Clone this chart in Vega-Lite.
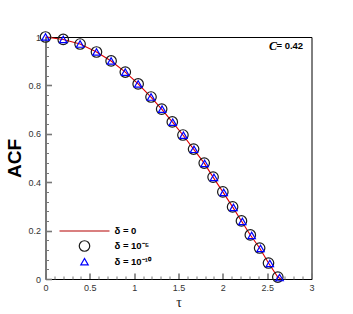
{
  "$schema": "https://vega.github.io/schema/vega-lite/v6.json",
  "width": 266,
  "height": 242,
  "autosize": {"type": "none"},
  "padding": {"left": 45.5, "top": 37, "right": 41.5, "bottom": 35},
  "background": "white",
  "config": {"view": {"stroke": "black", "strokeWidth": 1}, "font": "Liberation Sans"},
  "data": {
    "values": [
      {"series": "δ = 0", "tau": 0, "acf": 1.0},
      {"series": "δ = 0", "tau": 0.2, "acf": 0.99},
      {"series": "δ = 0", "tau": 0.39, "acf": 0.971},
      {"series": "δ = 0", "tau": 0.575, "acf": 0.938},
      {"series": "δ = 0", "tau": 0.74, "acf": 0.901},
      {"series": "δ = 0", "tau": 0.9, "acf": 0.855},
      {"series": "δ = 0", "tau": 1.045, "acf": 0.806},
      {"series": "δ = 0", "tau": 1.19, "acf": 0.752},
      {"series": "δ = 0", "tau": 1.31, "acf": 0.702},
      {"series": "δ = 0", "tau": 1.43, "acf": 0.649},
      {"series": "δ = 0", "tau": 1.55, "acf": 0.595},
      {"series": "δ = 0", "tau": 1.67, "acf": 0.537},
      {"series": "δ = 0", "tau": 1.79, "acf": 0.479},
      {"series": "δ = 0", "tau": 1.89, "acf": 0.421},
      {"series": "δ = 0", "tau": 2.0, "acf": 0.36},
      {"series": "δ = 0", "tau": 2.11, "acf": 0.298},
      {"series": "δ = 0", "tau": 2.21, "acf": 0.24},
      {"series": "δ = 0", "tau": 2.31, "acf": 0.182},
      {"series": "δ = 0", "tau": 2.415, "acf": 0.128},
      {"series": "δ = 0", "tau": 2.515, "acf": 0.066},
      {"series": "δ = 0", "tau": 2.62, "acf": 0.008},
      {"series": "δ = 0", "tau": 2.655, "acf": 0.0},
      {"series": "δ = 10⁻⁵", "tau": 0, "acf": 1.0},
      {"series": "δ = 10⁻⁵", "tau": 0.2, "acf": 0.99},
      {"series": "δ = 10⁻⁵", "tau": 0.39, "acf": 0.971},
      {"series": "δ = 10⁻⁵", "tau": 0.575, "acf": 0.938},
      {"series": "δ = 10⁻⁵", "tau": 0.74, "acf": 0.901},
      {"series": "δ = 10⁻⁵", "tau": 0.9, "acf": 0.855},
      {"series": "δ = 10⁻⁵", "tau": 1.045, "acf": 0.806},
      {"series": "δ = 10⁻⁵", "tau": 1.19, "acf": 0.752},
      {"series": "δ = 10⁻⁵", "tau": 1.31, "acf": 0.702},
      {"series": "δ = 10⁻⁵", "tau": 1.43, "acf": 0.649},
      {"series": "δ = 10⁻⁵", "tau": 1.55, "acf": 0.595},
      {"series": "δ = 10⁻⁵", "tau": 1.67, "acf": 0.537},
      {"series": "δ = 10⁻⁵", "tau": 1.79, "acf": 0.479},
      {"series": "δ = 10⁻⁵", "tau": 1.89, "acf": 0.421},
      {"series": "δ = 10⁻⁵", "tau": 2.0, "acf": 0.36},
      {"series": "δ = 10⁻⁵", "tau": 2.11, "acf": 0.298},
      {"series": "δ = 10⁻⁵", "tau": 2.21, "acf": 0.24},
      {"series": "δ = 10⁻⁵", "tau": 2.31, "acf": 0.182},
      {"series": "δ = 10⁻⁵", "tau": 2.415, "acf": 0.128},
      {"series": "δ = 10⁻⁵", "tau": 2.515, "acf": 0.066},
      {"series": "δ = 10⁻⁵", "tau": 2.62, "acf": 0.008},
      {"series": "δ = 10⁻¹⁰", "tau": 0, "acf": 1.0},
      {"series": "δ = 10⁻¹⁰", "tau": 0.2, "acf": 0.99},
      {"series": "δ = 10⁻¹⁰", "tau": 0.39, "acf": 0.971},
      {"series": "δ = 10⁻¹⁰", "tau": 0.575, "acf": 0.938},
      {"series": "δ = 10⁻¹⁰", "tau": 0.74, "acf": 0.901},
      {"series": "δ = 10⁻¹⁰", "tau": 0.9, "acf": 0.855},
      {"series": "δ = 10⁻¹⁰", "tau": 1.045, "acf": 0.806},
      {"series": "δ = 10⁻¹⁰", "tau": 1.19, "acf": 0.752},
      {"series": "δ = 10⁻¹⁰", "tau": 1.315, "acf": 0.702},
      {"series": "δ = 10⁻¹⁰", "tau": 1.435, "acf": 0.648},
      {"series": "δ = 10⁻¹⁰", "tau": 1.555, "acf": 0.594},
      {"series": "δ = 10⁻¹⁰", "tau": 1.675, "acf": 0.536},
      {"series": "δ = 10⁻¹⁰", "tau": 1.795, "acf": 0.478},
      {"series": "δ = 10⁻¹⁰", "tau": 1.9, "acf": 0.42},
      {"series": "δ = 10⁻¹⁰", "tau": 2.01, "acf": 0.358},
      {"series": "δ = 10⁻¹⁰", "tau": 2.12, "acf": 0.296},
      {"series": "δ = 10⁻¹⁰", "tau": 2.22, "acf": 0.238},
      {"series": "δ = 10⁻¹⁰", "tau": 2.325, "acf": 0.18},
      {"series": "δ = 10⁻¹⁰", "tau": 2.425, "acf": 0.126},
      {"series": "δ = 10⁻¹⁰", "tau": 2.53, "acf": 0.064},
      {"series": "δ = 10⁻¹⁰", "tau": 2.64, "acf": 0.006}
    ]
  },
  "layer": [
    {
      "transform": [{"filter": "datum.series === 'δ = 0'"}],
      "mark": {"type": "line", "color": "#e00000", "strokeWidth": 1.1},
      "encoding": {
        "x": {
          "field": "tau", "type": "quantitative",
          "scale": {"domain": [0, 3], "nice": false, "zero": false},
          "axis": {
            "orient": "bottom", "values": [0, 0.5, 1, 1.5, 2, 2.5, 3],
            "labelExpr": "'' + datum.value", "grid": false,
            "domainColor": "#000000", "domainWidth": 1,
            "tickSize": -6, "tickColor": "#777777", "tickWidth": 1.6,
            "labelPadding": 10, "labelFont": "Liberation Sans", "labelFontSize": 9, "labelColor": "#333333",
            "labelFlush": false,
            "title": "τ", "titleFont": "Liberation Serif", "titleFontSize": 14, "titleFontWeight": "normal",
            "titleColor": "#222222", "titlePadding": 3
          }
        },
        "y": {
          "field": "acf", "type": "quantitative",
          "scale": {"domain": [0, 1], "nice": false, "zero": false},
          "axis": {
            "orient": "left", "values": [0, 0.2, 0.4, 0.6, 0.8, 1],
            "labelExpr": "'' + datum.value", "grid": false,
            "domainColor": "#777777", "domainWidth": 1.6,
            "tickSize": -6, "tickColor": "#777777", "tickWidth": 1.6,
            "labelPadding": 11, "labelFont": "Liberation Sans", "labelFontSize": 9, "labelColor": "#333333",
            "labelFlush": false,
            "title": "ACF", "titleFont": "Liberation Sans", "titleFontSize": 19, "titleFontWeight": "bold",
            "titleColor": "#000000", "titlePadding": 3
          }
        }
      }
    },
    {
      "transform": [{"filter": "datum.series !== 'δ = 0'"}],
      "mark": {"type": "point", "filled": false, "strokeWidth": 1.2, "opacity": 1},
      "encoding": {
        "x": {
          "field": "tau", "type": "quantitative",
          "scale": {"domain": [0, 3], "nice": false, "zero": false},
          "axis": {
            "orient": "bottom",
            "values": [0.1, 0.2, 0.3, 0.4, 0.6, 0.7, 0.8, 0.9, 1.1, 1.2, 1.3, 1.4, 1.6, 1.7, 1.8, 1.9, 2.1, 2.2, 2.3, 2.4, 2.6, 2.7, 2.8, 2.9],
            "labels": false, "domain": false, "grid": false, "title": null,
            "tickSize": -3, "tickColor": "#777777", "tickWidth": 1
          }
        },
        "y": {
          "field": "acf", "type": "quantitative",
          "scale": {"domain": [0, 1], "nice": false, "zero": false},
          "axis": {
            "orient": "left",
            "values": [0.04, 0.08, 0.12, 0.16, 0.24, 0.28, 0.32, 0.36, 0.44, 0.48, 0.52, 0.56, 0.64, 0.68, 0.72, 0.76, 0.84, 0.88, 0.92, 0.96],
            "labels": false, "domain": false, "grid": false, "title": null,
            "tickSize": -3, "tickColor": "#777777", "tickWidth": 1
          }
        },
        "color": {
          "field": "series", "type": "nominal",
          "scale": {"domain": ["δ = 0", "δ = 10⁻⁵", "δ = 10⁻¹⁰"], "range": ["#b40000", "#1a1a1a", "#0000ff"]},
          "legend": {
            "orient": "none", "legendX": 13, "legendY": 168, "title": null, "padding": 0,
            "labelFont": "Liberation Sans", "labelFontSize": 9.5, "labelFontWeight": "bold", "labelColor": "#000000",
            "rowPadding": 2, "labelOffset": 4, "symbolStrokeWidth": 1.2
          }
        },
        "shape": {
          "field": "series", "type": "nominal",
          "scale": {"domain": ["δ = 0", "δ = 10⁻⁵", "δ = 10⁻¹⁰"], "range": ["stroke", "circle", "triangle-up"]},
          "legend": {
            "orient": "none", "legendX": 13, "legendY": 168, "title": null, "padding": 0,
            "labelFont": "Liberation Sans", "labelFontSize": 9.5, "labelFontWeight": "bold", "labelColor": "#000000",
            "rowPadding": 2, "labelOffset": 4, "symbolStrokeWidth": 1.2
          }
        },
        "size": {
          "field": "series", "type": "nominal",
          "scale": {"type": "ordinal", "domain": ["δ = 0", "δ = 10⁻⁵", "δ = 10⁻¹⁰"], "range": [2500, 110, 55]},
          "legend": {
            "orient": "none", "legendX": 13, "legendY": 168, "title": null, "padding": 0,
            "labelFont": "Liberation Sans", "labelFontSize": 9.5, "labelFontWeight": "bold", "labelColor": "#000000",
            "rowPadding": 2, "labelOffset": 4, "symbolStrokeWidth": 1.2
          }
        }
      }
    },
    {
      "data": {"values": [{"label": "= 0.42"}]},
      "mark": {"type": "text", "align": "right", "baseline": "middle", "font": "Liberation Sans", "fontSize": 9.5, "fontWeight": "bold", "color": "#000000"},
      "encoding": {
        "x": {"datum": 2.906, "type": "quantitative", "axis": null},
        "y": {"datum": 0.963, "type": "quantitative", "axis": null},
        "text": {"field": "label"}
      }
    },
    {
      "data": {"values": [{"label": "C"}]},
      "mark": {"type": "text", "align": "right", "baseline": "middle", "font": "Liberation Serif", "fontSize": 12, "fontWeight": "bold", "fontStyle": "italic", "color": "#000000"},
      "encoding": {
        "x": {"datum": 2.61, "type": "quantitative", "axis": null},
        "y": {"datum": 0.963, "type": "quantitative", "axis": null},
        "text": {"field": "label"}
      }
    }
  ],
  "resolve": {"axis": {"x": "independent", "y": "independent"}}
}
